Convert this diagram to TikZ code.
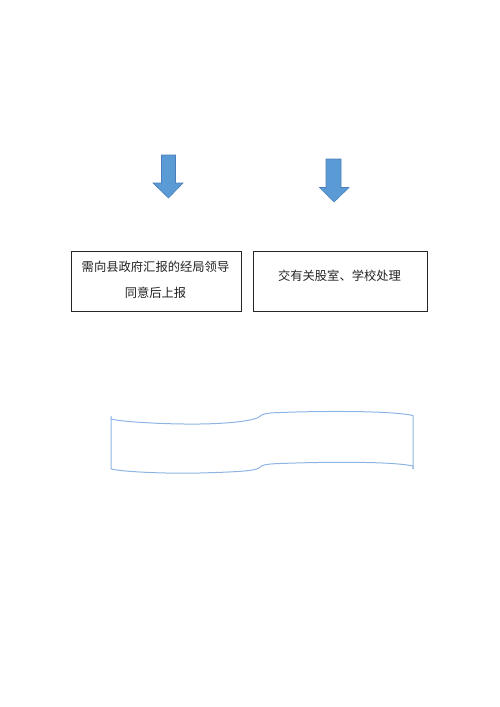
\documentclass[tikz,border=0pt]{standalone}
\usepackage{fontspec}
\newfontfamily\cjk{Noto Sans CJK SC}
\definecolor{arrfill}{HTML}{5B9BD5}
\definecolor{arrline}{HTML}{4A7EBB}
\definecolor{scrollc}{HTML}{8EB4E3}
\definecolor{txt}{HTML}{222222}
\tikzset{
  box/.style={draw=black!85, line width=0.9pt, minimum height=60pt, inner sep=0pt, anchor=north west},
  boxtext/.style={font=\cjk\fontsize{12.3pt}{26pt}\selectfont, text=txt, align=center},
  blockarrow/.style={fill=arrfill, draw=arrline, line width=0.6pt, line join=miter},
  scroll/.style={draw=scrollc, line width=1pt, line join=round}
}
\begin{document}
\begin{tikzpicture}[x=1pt,y=-1pt]
\useasboundingbox (0,0) rectangle (500,707);
% block arrows
\draw[blockarrow] (161.5,155) -- (175.5,155) -- (175.5,183) -- (183,183) -- (168.5,198) -- (153,183) -- (161.5,183) -- cycle;
\draw[blockarrow] (326,159) -- (341,159) -- (341,187.5) -- (349,187.5) -- (334,202) -- (319.5,187.5) -- (326,187.5) -- cycle;
% boxes
\node[box, minimum width=170pt] (b1) at (70.5,250.5) {};
\node[box, minimum width=174pt] (b2) at (252.5,250.5) {};
\node[boxtext] at (155.5,267) (l1) {需向县政府汇报的经局领导};
\node[boxtext] at (155.5,293) (l2) {同意后上报};
\node[boxtext] at (339.5,275.5) (l3) {交有关股室、学校处理};
% scroll-like shape
\draw[scroll] (111,416) -- (111,468.5)
  .. controls (112,471) and (160,474) .. (200,473)
  .. controls (235,472) and (255,471) .. (259,468)
  .. controls (262,465) and (265,464) .. (280,463.5)
  .. controls (320,462) and (390,461) .. (413,466)
  -- (413,469);
\draw[scroll] (413,469) -- (413,415.5)
  .. controls (390,410.5) and (320,411) .. (280,412.5)
  .. controls (265,413) and (262,414) .. (259,417)
  .. controls (255,420) and (235,423.5) .. (200,424)
  .. controls (160,424.5) and (112,421) .. (111,418.5);
\end{tikzpicture}
\end{document}
